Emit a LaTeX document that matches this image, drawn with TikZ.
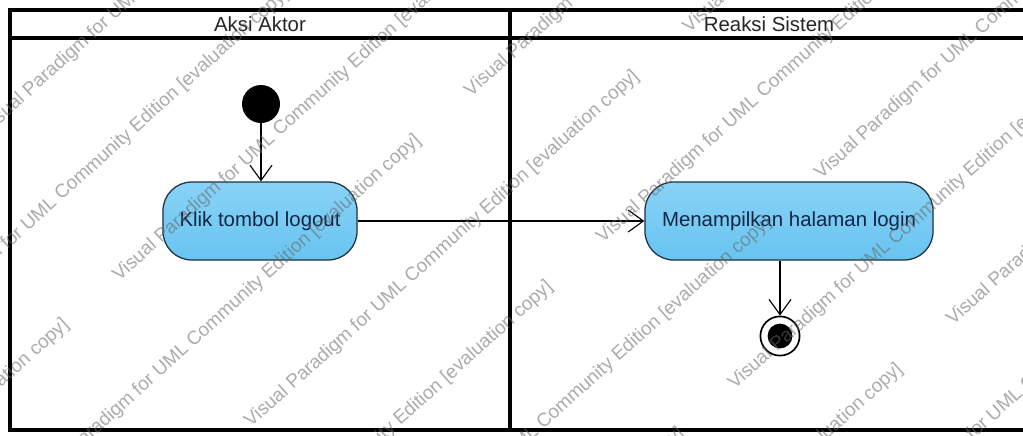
\documentclass[tikz,border=0pt]{standalone}
\usepackage{fontspec}
\setmainfont{Liberation Sans}
\usetikzlibrary{arrows.meta}
\definecolor{actfill}{RGB}{104,196,240}
\definecolor{actfilltop}{RGB}{136,210,246}
\definecolor{actline}{RGB}{30,48,68}
\definecolor{acttext}{RGB}{18,36,70}
\begin{document}
\begin{tikzpicture}[x=0.025cm, y=-0.025cm,
    font=\fontsize{14.5}{17}\selectfont,
    lane/.style={line width=2.8pt},
    action/.style={rounded corners=0.72cm, draw=actline, line width=0.9pt, top color=actfilltop, bottom color=actfill, text=acttext, minimum height=1.95cm, inner sep=2pt},
    startnode/.style={circle, fill=black, minimum size=0.95cm, inner sep=0pt},
    endnode/.style={circle, draw=black, line width=1.2pt, fill=white, minimum size=0.98cm, inner sep=0pt,
      path picture={\fill[black] (path picture bounding box.center) circle (0.31cm);}},
    flow/.style={-{Straight Barb[length=0.38cm, width=0.55cm]}, line width=0.8pt},
    wm/.style={font=\fontsize{13.5}{16}\selectfont, text=black!60, text opacity=0.55, rotate=42, anchor=base west, inner sep=0pt}]
  \useasboundingbox (0,0) rectangle (1023,435);
  \fill[white] (0,0) rectangle (1023,435);
  % swimlanes
  \draw[lane] (1023,10) -- (10,10) -- (10,430) -- (1023,430);
  \draw[lane] (10,38) -- (1023,38);
  \draw[lane] (510,10) -- (510,430);
  \node[text=black!85] (aksi) at (260,24) {Aksi Aktor};
  \node[text=black!85] (reaksi) at (769,24) {Reaksi Sistem};

  % activities
  \node[startnode] (start) at (261,104) {};
  \node[action, minimum width=4.85cm] (klik) at (260,221) {Klik tombol logout};
  \node[action, minimum width=7.2cm] (tampil) at (789,221) {Menampilkan halaman login};
  \node[endnode] (end) at (780,336) {};

  \draw[flow] (start) -- (start |- klik.north);
  \draw[flow] (klik) -- (tampil);
  \draw[flow] (end |- tampil.south) -- (end);

  % evaluation watermark
  \begin{scope}
    \clip (0,0) rectangle (1023,435);
    \foreach \k in {0,...,11}{
      \pgfmathsetmacro\wt{-6.5+98.5*\k}
      \pgfmathsetmacro\ws{ifthenelse(isodd(\k),490,285)}
      \foreach \j in {-2,...,1}{
        \node[wm] (wm-\k-\j) at ({(\ws+590*\j)*0.743+\wt*0.669},{-(\ws+590*\j)*0.669+\wt*0.743})
          {Visual Paradigm for UML Community Edition [evaluation copy]};
      }
    }
  \end{scope}
\end{tikzpicture}
\end{document}
